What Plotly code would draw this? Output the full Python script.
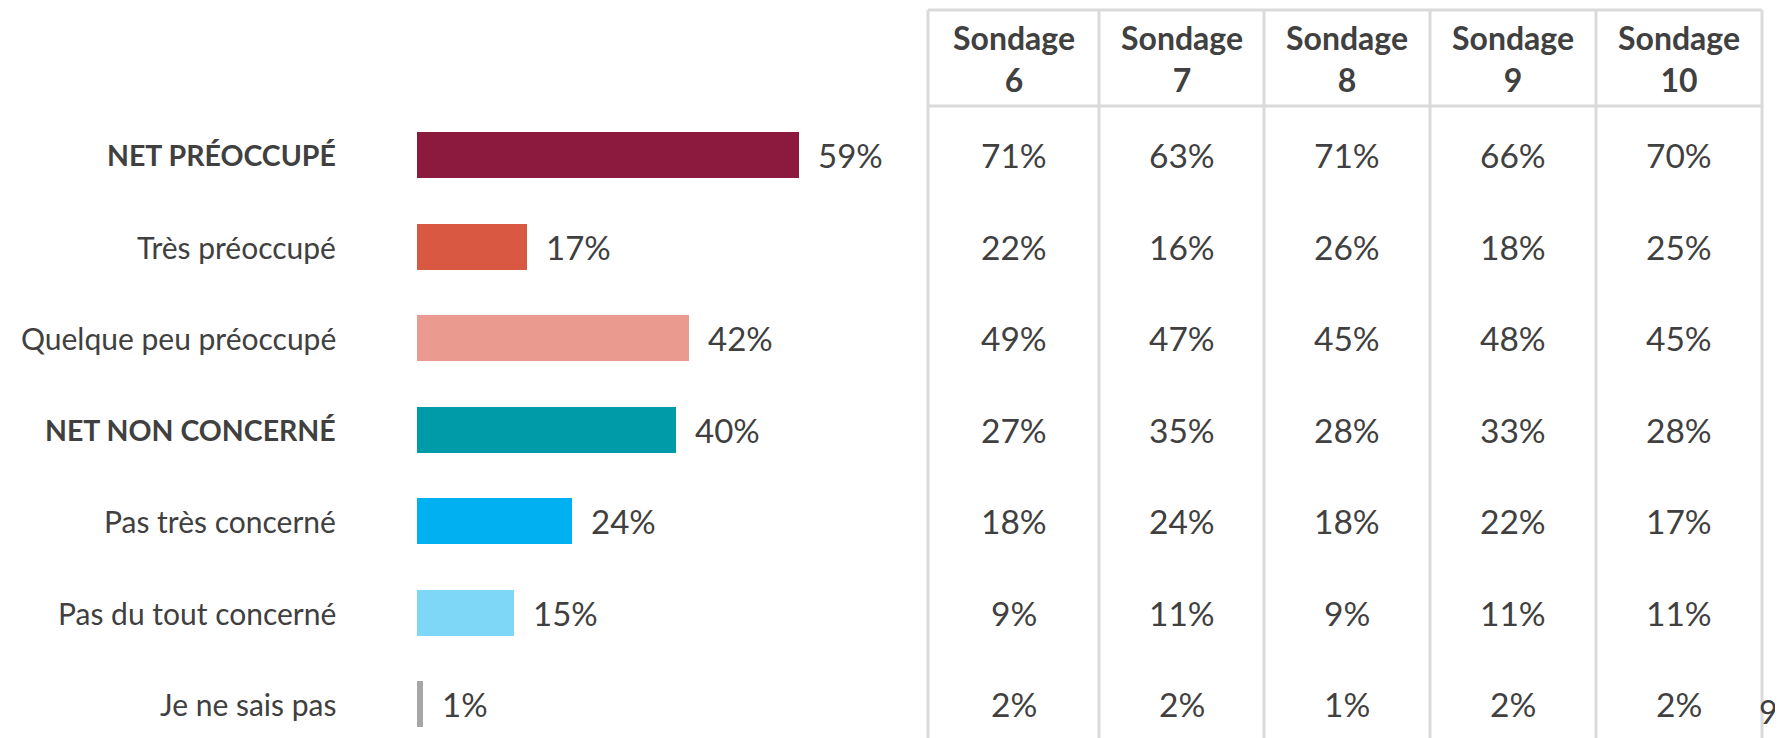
import plotly.graph_objects as go

# ---------------- data ----------------
categories = ["NET PRÉOCCUPÉ", "Très préoccupé", "Quelque peu préoccupé",
              "NET NON CONCERNÉ", "Pas très concerné", "Pas du tout concerné",
              "Je ne sais pas"]
is_net = [True, False, False, True, False, False, False]
current = [59, 17, 42, 40, 24, 15, 1]
bar_colors = ["#8C1A3F", "#D95841", "#EA9A8F", "#009BA8", "#00B0F0", "#7FD7F7", "#A6A6A6"]

survey_labels = ["Sondage<br>6", "Sondage<br>7", "Sondage<br>8", "Sondage<br>9", "Sondage<br>10"]
sondage6 = [71, 22, 49, 27, 18, 9, 2]
sondage7 = [63, 16, 47, 35, 24, 11, 2]
sondage8 = [71, 26, 45, 28, 18, 9, 1]
sondage9 = [66, 18, 48, 33, 22, 11, 2]
sondage10 = [70, 25, 45, 28, 17, 11, 2]
history = [sondage6, sondage7, sondage8, sondage9, sondage10]
page_number = "9"

# ---------------- geometry (screen pixels) ----------------
W, H = 1783, 738
OFF = 8               # page body margin compensation
BAR_X0 = 417 - OFF    # pixel of 0 %
PX_PER = 6.47         # pixels per %
ROW0 = 155 - OFF      # centre of first row
ROW_STEP = 91.5
BAR_H = 46
LABEL_RIGHT = 338 - OFF
COL_EDGES = [e - OFF for e in [928, 1099, 1264, 1430, 1596, 1762]]
TABLE_TOP = 10 - OFF
HEADER_BOTTOM = 106 - OFF

TEXT = "#404040"
GRID = "#DADADA"
FONT = "Lato, 'Noto Sans', sans-serif"

def px(x):
    return x / W

def py(y):
    return 1 - y / H

n = len(categories)
rows = list(range(n))

fig = go.Figure()
fig.add_trace(go.Bar(
    x=current, y=rows, orientation="h",
    width=BAR_H / ROW_STEP,
    marker=dict(color=bar_colors, line=dict(width=0)),
    hoverinfo="skip", showlegend=False,
))

annotations = []
# category labels
for i, c in enumerate(categories):
    annotations.append(dict(
        x=px(LABEL_RIGHT), xref="paper", y=i, yref="y",
        text=f"<b>{c}</b>" if is_net[i] else c,
        xanchor="right", yanchor="middle", showarrow=False,
        font=dict(size=28.5 if is_net[i] else 30, color=TEXT, family=FONT),
    ))
# bar value labels
for i, v in enumerate(current):
    annotations.append(dict(
        x=v, xref="x", y=i, yref="y", text=f"{v}%",
        xanchor="left", yanchor="middle", showarrow=False, xshift=17,
        font=dict(size=33, color=TEXT, family=FONT),
    ))
# table header + values
centers = [(COL_EDGES[k] + COL_EDGES[k + 1]) / 2 for k in range(len(survey_labels))]
for k, lab in enumerate(survey_labels):
    annotations.append(dict(
        x=px(centers[k]), xref="paper", y=py((TABLE_TOP + HEADER_BOTTOM) / 2 + 1), yref="paper",
        text="<b>" + lab.replace("<br>", "</b><br><b>") + "</b>",
        xanchor="center", yanchor="middle", showarrow=False,
        font=dict(size=32, color=TEXT, family=FONT),
    ))
    for i, v in enumerate(history[k]):
        annotations.append(dict(
            x=px(centers[k]), xref="paper", y=i, yref="y", text=f"{v}%",
            xanchor="center", yanchor="middle", showarrow=False,
            font=dict(size=33.5, color=TEXT, family=FONT),
        ))
# page number (partly cut off at right edge in the reference)
annotations.append(dict(
    x=px(1757 - OFF), xref="paper", y=py(711 - OFF), yref="paper", text=page_number,
    xanchor="left", yanchor="middle", showarrow=False,
    font=dict(size=32, color=TEXT, family=FONT),
))

shapes = []
for xe in COL_EDGES:
    shapes.append(dict(type="line", xref="paper", yref="paper",
                       x0=px(xe), x1=px(xe), y0=py(TABLE_TOP), y1=py(H + 20),
                       line=dict(color=GRID, width=3)))
for ye in (TABLE_TOP, HEADER_BOTTOM):
    shapes.append(dict(type="line", xref="paper", yref="paper",
                       x0=px(COL_EDGES[0]), x1=px(COL_EDGES[-1]), y0=py(ye), y1=py(ye),
                       line=dict(color=GRID, width=3)))

fig.update_layout(
    width=W, height=H,
    margin=dict(l=0, r=0, t=0, b=0),
    paper_bgcolor="white", plot_bgcolor="white",
    xaxis=dict(range=[-BAR_X0 / PX_PER, (W - BAR_X0) / PX_PER], visible=False, fixedrange=True),
    yaxis=dict(range=[(H - ROW0) / ROW_STEP, -ROW0 / ROW_STEP], visible=False, fixedrange=True),
    annotations=annotations, shapes=shapes,
    bargap=0,
)

fig.write_html("out.html", config={"displayModeBar": False})
